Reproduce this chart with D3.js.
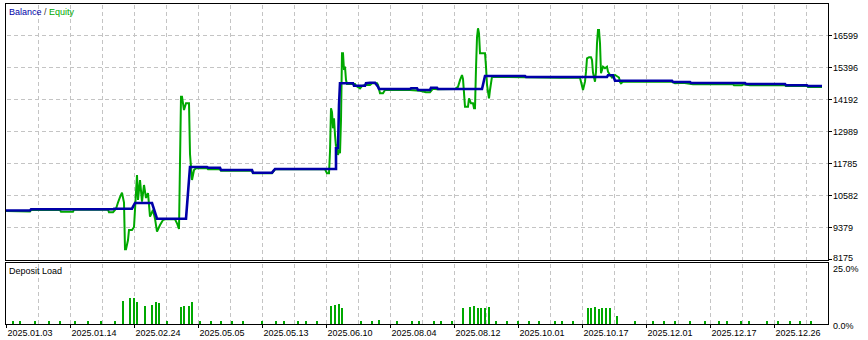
<!DOCTYPE html>
<html><head><meta charset="utf-8">
<script src="https://cdn.jsdelivr.net/npm/d3@7"></script>
<style>
html,body{margin:0;padding:0;background:#fff;}
svg{display:block;}
text{font-family:"Liberation Sans",Arial,sans-serif;font-size:9px;fill:#000;}
</style>
</head><body>
<svg id="c" width="868" height="340"></svg>
<script>
// ---- data ----
const dateLabels = ["2025.01.03","2025.01.14","2025.02.24","2025.05.05","2025.05.13","2025.06.10","2025.08.04","2025.08.12","2025.10.01","2025.10.17","2025.12.01","2025.12.17","2025.12.26"];
const yTicks = [16599,15396,14192,12989,11785,10582,9379,8175];
const loadTicks = [25,0];
// balance: [deal index, value]
const balance = [[0,10000],[24,10000],[25,10044],[107,10044],[108,10067],[126,10067],[129,10281],[146,10281],[151,9691],[180,9691],[184,11635],[201,11635],[202,11609],[214,11609],[215,11522],[246,11522],[247,11421],[266,11421],[269,11560],[330,11560],[330,12338],[332,12338],[333,13966],[334,14783],[347,14783],[348,14692],[359,14692],[360,14783],[364,14805],[369,14805],[372,14655],[373,14568],[404,14568],[405,14594],[411,14594],[412,14531],[424,14531],[425,14617],[431,14617],[432,14568],[476,14568],[479,15057],[519,15057],[520,15020],[601,15020],[602,15083],[607,15083],[609,14880],[666,14880],[667,14831],[684,14831],[685,14794],[739,14794],[740,14756],[779,14756],[780,14707],[801,14707],[802,14681],[816,14681]];
const equity = [[0,9980],[24,9960],[25,10020],[54,10020],[55,9954],[67,9954],[68,10030],[102,10030],[103,9931],[107,9931],[110,10067],[112,10300],[114,10500],[116,10668],[118,10300],[119,8540],[120,8540],[122,8890],[123,9266],[126,9266],[128,9378],[131,11334],[132,10394],[134,11146],[136,10330],[138,10958],[140,10469],[142,10657],[144,9766],[147,10018],[149,9691],[151,9202],[154,9454],[157,9642],[159,9668],[169,9668],[171,9518],[173,9303],[175,14279],[176,14279],[178,13778],[180,14030],[183,14030],[184,12124],[186,11146],[188,11522],[190,11586],[201,11586],[202,11548],[214,11548],[215,11496],[246,11496],[247,11398],[266,11398],[269,11548],[319,11548],[321,11398],[323,11398],[324,12210],[325,13842],[326,13700],[327,13090],[328,13466],[329,12838],[330,12398],[331,12500],[332,12086],[333,12274],[334,12150],[335,13402],[336,15911],[337,15911],[338,15283],[339,15407],[340,14907],[341,14756],[349,14756],[350,14692],[354,14594],[356,14681],[359,14719],[364,14719],[366,14783],[371,14783],[372,14719],[374,14406],[377,14406],[379,14531],[404,14531],[414,14504],[420,14444],[424,14444],[427,14580],[431,14560],[449,14568],[452,14650],[454,14900],[456,15095],[457,14950],[459,13903],[462,13903],[463,14218],[465,14030],[467,14030],[468,13842],[469,13842],[470,15347],[471,16500],[472,16851],[473,16663],[474,15911],[479,15911],[480,15407],[481,14719],[483,14218],[484,14531],[486,15031],[519,15008],[554,14993],[574,14993],[577,14531],[579,14843],[580,15219],[581,15723],[583,15760],[585,15760],[586,15659],[587,15181],[589,14843],[590,15219],[591,16287],[592,16787],[593,16787],[594,16287],[595,15159],[597,15407],[599,15347],[601,15407],[602,15219],[604,15095],[606,15000],[609,15095],[613,15000],[614,14831],[615,14780],[617,14843],[666,14843],[669,14783],[677,14800],[687,14745],[727,14745],[728,14707],[736,14707],[737,14745],[744,14707],[779,14707],[780,14681],[801,14681],[802,14643],[816,14643]];
const loadT   = [7,14,29,43,54,69,82,95,109,117,124,128,131,139,146,150,153,161,175,178,183,186,194,205,215,226,237,256,270,278,292,300,311,325,329,333,336,355,366,373,391,406,413,428,435,446,457,464,468,472,475,479,483,490,501,512,523,533,549,556,567,582,585,589,593,596,600,604,611,629,647,658,669,684,699,713,721,735,743,761,772,784,794,805];
const loadPct = [1.2,1.2,1.2,1.2,1.2,1.2,1.2,1.2,1.2,9.5,10.8,10.8,9.1,7.5,7.8,9.0,8.6,1.2,7.1,7.4,7.4,9.0,1.2,1.2,1.2,1.2,1.2,1.2,1.2,1.2,1.2,1.2,1.2,7.4,7.8,8.2,6.7,1.2,1.2,1.6,1.2,1.2,1.2,1.2,1.2,1.2,6.7,6.9,7.4,6.4,6.7,6.7,7.1,1.2,1.2,1.2,1.2,1.2,1.2,1.2,1.2,6.7,6.7,6.9,6.3,6.5,6.5,6.5,3.3,1.2,1.2,1.2,1.2,1.2,1.2,1.2,1.2,1.2,1.2,1.2,1.2,1.2,1.2,1.2];

// ---- layout ----
const svg = d3.select("#c");
const L = 5.5, R = 828.5, T = 3.5, MB = 260.5, ST = 262.5, SB = 324.5;
const x = d3.scaleLinear().domain([0, 816]).range([6, 822]);
const y = d3.scaleLinear().domain([8175, 16599]).range([259, 35]);
const yl = d3.scaleLinear().domain([0, 25]).range([324, 263]);
const GREEN = "#00a800", BLUE = "#0000a8", GRID = "#c4c4c4";

svg.append("rect").attr("width",868).attr("height",340).attr("fill","#fff");

// vertical grid
const vg = d3.range(32, 801, 32);
const grid = svg.append("g").attr("stroke", GRID).attr("stroke-dasharray","4,3").attr("shape-rendering","crispEdges");
vg.forEach(t => {
  const px = Math.round(x(t)) + 0.5;
  grid.append("line").attr("x1",px).attr("x2",px).attr("y1",T+1).attr("y2",MB-1);
  grid.append("line").attr("x1",px).attr("x2",px).attr("y1",ST+1).attr("y2",SB-1);
});
yTicks.filter(v => v !== 8175).forEach(v => {
  const py = Math.round(y(v)) + 0.5;
  grid.append("line").attr("x1",L+1).attr("x2",R-1).attr("y1",py).attr("y2",py);
});

// deposit load bars
svg.append("g").attr("shape-rendering","crispEdges").selectAll("rect")
  .data(loadT.map((t,i)=>[t,loadPct[i]])).join("rect")
  .attr("x", d => Math.round(x(d[0])) - 1)
  .attr("width", 2)
  .attr("y", d => yl(d[1]))
  .attr("height", d => yl(0) - yl(d[1]))
  .attr("fill", GREEN);

// lines
svg.append("clipPath").attr("id","mc").append("rect").attr("x",L+0.5).attr("y",T+0.5).attr("width",R-L-1).attr("height",MB-T-1);
const line = d3.line().x(d => x(d[0])).y(d => y(d[1]));
const lg = svg.append("g").attr("clip-path","url(#mc)");
lg.append("path").attr("d", line(equity)).attr("fill","none").attr("stroke",GREEN).attr("stroke-width",2).attr("stroke-linejoin","miter").attr("stroke-miterlimit",2);
lg.append("path").attr("d", line(balance)).attr("fill","none").attr("stroke",BLUE).attr("stroke-width",2.6).attr("stroke-linejoin","miter").attr("stroke-miterlimit",2);

// frames
const fr = svg.append("g").attr("fill","none").attr("stroke","#000").attr("shape-rendering","crispEdges");
fr.append("rect").attr("x",L).attr("y",T).attr("width",R-L).attr("height",MB-T);
fr.append("path").attr("d",`M${L},${SB}V${ST}H${R}V${SB}`);
fr.append("line").attr("x1",L).attr("x2",R).attr("y1",SB).attr("y2",SB);

// bottom axis ticks and labels
dateLabels.forEach((s,i) => {
  const px = Math.round(x(i*64)) + 0.5;
  fr.append("line").attr("x1",px).attr("x2",px).attr("y1",SB).attr("y2",SB+3);
  svg.append("text").attr("x", px + 1).attr("y", 336).text(s);
});

// right axis
yTicks.forEach(v => {
  const py = Math.round(y(v)) + 0.5;
  fr.append("line").attr("x1",R).attr("x2",R+3).attr("y1",py).attr("y2",py);
  svg.append("text").attr("x",833).attr("y", y(v) + (v===8175 ? 2 : 4)).text(v);
});
loadTicks.forEach(p => {
  svg.append("text").attr("x",833).attr("y", p===25 ? 272 : 328.5).text(p.toFixed(1) + "%");
});

// titles
const tt = svg.append("text").attr("x",9).attr("y",15);
tt.append("tspan").attr("fill",BLUE).text("Balance");
tt.append("tspan").attr("fill","#333").text(" / ");
tt.append("tspan").attr("fill",GREEN).text("Equity");
svg.append("text").attr("x",9).attr("y",273.5).attr("fill","#222").text("Deposit Load");
</script>
</body></html>
